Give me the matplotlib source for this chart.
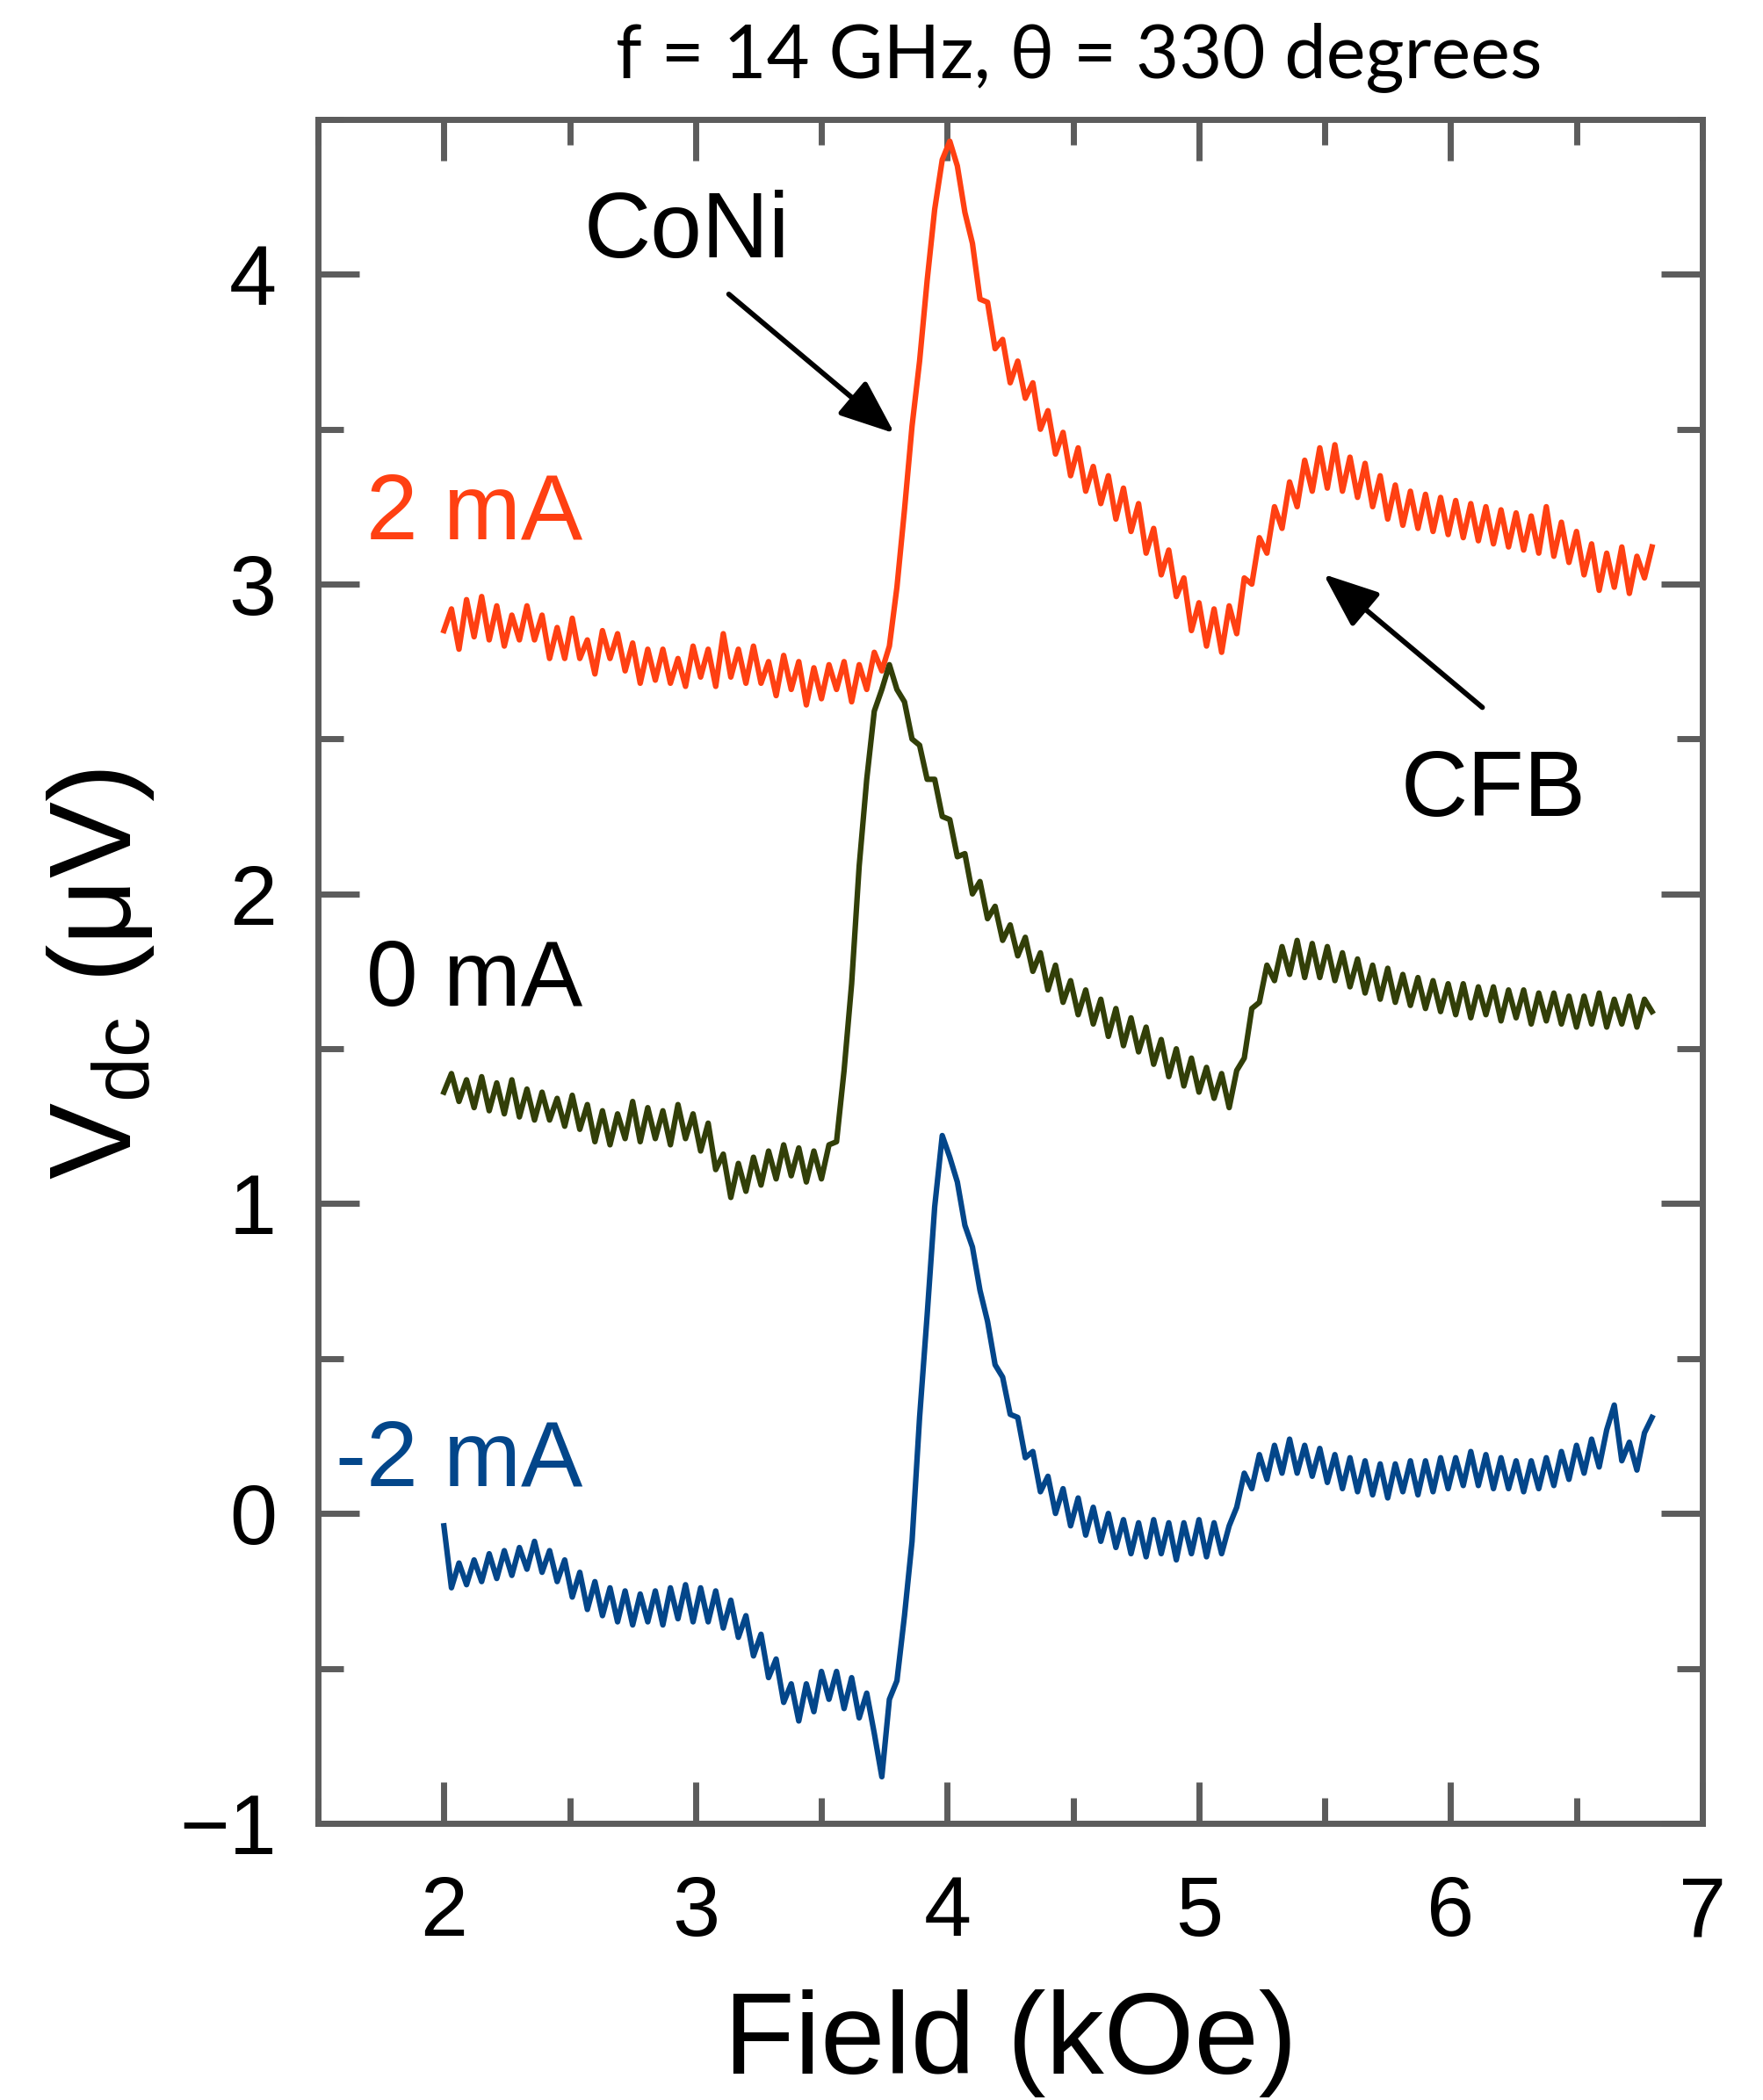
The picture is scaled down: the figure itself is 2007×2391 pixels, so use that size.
import numpy as np
import matplotlib
matplotlib.use("Agg")
import matplotlib.pyplot as plt
from matplotlib.ticker import MultipleLocator, FuncFormatter
from matplotlib.patches import ArrowStyle

plt.rcParams['font.family'] = ['Liberation Sans', 'DejaVu Sans']
plt.rcParams['mathtext.fontset'] = 'custom'
plt.rcParams['mathtext.rm'] = 'Liberation Sans'
plt.rcParams['mathtext.it'] = 'Liberation Sans:italic'

# Field sweep (kOe)
field = np.linspace(2.0, 6.8, 161)

# V_dc (uV) at +2 mA
v_plus2 = [
    2.85, 2.92, 2.79, 2.95, 2.83, 2.96, 2.82, 2.93, 2.80, 2.90,
    2.82, 2.93, 2.82, 2.90, 2.76, 2.86, 2.76, 2.89, 2.76, 2.82,
    2.71, 2.85, 2.76, 2.84, 2.72, 2.81, 2.68, 2.79, 2.69, 2.79,
    2.68, 2.76, 2.67, 2.80, 2.70, 2.79, 2.67, 2.84, 2.70, 2.79,
    2.68, 2.80, 2.68, 2.75, 2.64, 2.77, 2.66, 2.75, 2.61, 2.73,
    2.63, 2.74, 2.66, 2.75, 2.62, 2.74, 2.66, 2.78, 2.72, 2.80,
    2.99, 3.24, 3.51, 3.72, 3.98, 4.21, 4.37, 4.43, 4.35, 4.20,
    4.10, 3.92, 3.91, 3.76, 3.79, 3.65, 3.72, 3.60, 3.65, 3.50,
    3.56, 3.42, 3.49, 3.35, 3.44, 3.30, 3.38, 3.26, 3.35, 3.21,
    3.31, 3.17, 3.26, 3.10, 3.18, 3.03, 3.11, 2.96, 3.02, 2.85,
    2.94, 2.80, 2.92, 2.78, 2.93, 2.84, 3.02, 3.00, 3.15, 3.10,
    3.25, 3.18, 3.33, 3.25, 3.40, 3.30, 3.44, 3.31, 3.45, 3.30,
    3.41, 3.28, 3.39, 3.25, 3.35, 3.21, 3.32, 3.19, 3.30, 3.18,
    3.29, 3.17, 3.28, 3.16, 3.27, 3.15, 3.26, 3.14, 3.25, 3.13,
    3.24, 3.12, 3.23, 3.11, 3.22, 3.10, 3.25, 3.09, 3.20, 3.07,
    3.17, 3.03, 3.13, 2.98, 3.10, 2.99, 3.12, 2.97, 3.09, 3.02, 3.12,
]

# V_dc (uV) at 0 mA
v_zero = [
    1.36, 1.42, 1.33, 1.40, 1.31, 1.41, 1.30, 1.39, 1.29, 1.40,
    1.28, 1.37, 1.27, 1.36, 1.27, 1.34, 1.25, 1.35, 1.24, 1.32,
    1.20, 1.30, 1.19, 1.29, 1.21, 1.33, 1.20, 1.31, 1.21, 1.30,
    1.19, 1.32, 1.21, 1.29, 1.17, 1.26, 1.11, 1.16, 1.02, 1.13,
    1.04, 1.15, 1.06, 1.17, 1.08, 1.19, 1.09, 1.18, 1.07, 1.17,
    1.08, 1.19, 1.20, 1.43, 1.71, 2.09, 2.37, 2.59, 2.66, 2.74,
    2.66, 2.62, 2.50, 2.48, 2.37, 2.37, 2.25, 2.24, 2.12, 2.13,
    2.00, 2.04, 1.92, 1.96, 1.85, 1.90, 1.80, 1.86, 1.75, 1.81,
    1.69, 1.77, 1.65, 1.72, 1.61, 1.69, 1.58, 1.66, 1.54, 1.63,
    1.51, 1.60, 1.49, 1.57, 1.45, 1.53, 1.41, 1.50, 1.38, 1.47,
    1.36, 1.44, 1.34, 1.42, 1.31, 1.43, 1.47, 1.63, 1.65, 1.77,
    1.72, 1.83, 1.74, 1.85, 1.73, 1.84, 1.73, 1.83, 1.72, 1.81,
    1.70, 1.79, 1.68, 1.77, 1.66, 1.76, 1.65, 1.74, 1.64, 1.73,
    1.63, 1.72, 1.62, 1.71, 1.61, 1.71, 1.60, 1.70, 1.61, 1.70,
    1.59, 1.69, 1.60, 1.69, 1.58, 1.68, 1.59, 1.68, 1.58, 1.67,
    1.57, 1.67, 1.58, 1.68, 1.57, 1.66, 1.58, 1.67, 1.57, 1.66, 1.62,
]

# V_dc (uV) at -2 mA
v_minus2 = [
    -0.04, -0.24, -0.16, -0.23, -0.15, -0.22, -0.13, -0.21, -0.12, -0.20,
    -0.11, -0.18, -0.09, -0.19, -0.12, -0.22, -0.15, -0.27, -0.19, -0.31,
    -0.22, -0.33, -0.24, -0.35, -0.25, -0.36, -0.26, -0.35, -0.25, -0.36,
    -0.24, -0.34, -0.23, -0.35, -0.24, -0.35, -0.25, -0.37, -0.28, -0.40,
    -0.33, -0.46, -0.39, -0.53, -0.47, -0.61, -0.55, -0.67, -0.55, -0.64,
    -0.51, -0.60, -0.51, -0.63, -0.53, -0.66, -0.58, -0.71, -0.85, -0.60,
    -0.54, -0.33, -0.09, 0.31, 0.64, 0.99, 1.22, 1.15, 1.07, 0.93,
    0.86, 0.72, 0.62, 0.48, 0.44, 0.32, 0.31, 0.18, 0.20, 0.07,
    0.12, 0.00, 0.08, -0.04, 0.05, -0.07, 0.02, -0.09, 0.00, -0.11,
    -0.02, -0.13, -0.03, -0.14, -0.02, -0.13, -0.03, -0.15, -0.03, -0.13,
    -0.02, -0.14, -0.03, -0.13, -0.04, 0.02, 0.13, 0.08, 0.19, 0.11,
    0.22, 0.13, 0.24, 0.13, 0.22, 0.12, 0.21, 0.10, 0.19, 0.08,
    0.18, 0.07, 0.17, 0.06, 0.16, 0.05, 0.16, 0.07, 0.17, 0.06,
    0.17, 0.07, 0.18, 0.08, 0.18, 0.09, 0.20, 0.09, 0.19, 0.08,
    0.18, 0.08, 0.17, 0.07, 0.17, 0.08, 0.18, 0.09, 0.20, 0.11,
    0.22, 0.13, 0.24, 0.15, 0.27, 0.35, 0.17, 0.23, 0.14, 0.26, 0.31,
]

labels = ["2 mA", "0 mA", "-2 mA"]
line_colors = ["#ff4012", "#323f08", "#03468a"]
label_colors = ["#ff4012", "black", "#03468a"]
label_pos = [(2.55, 3.146), (2.55, 1.639), (2.55, 0.089)]

fig = plt.figure(figsize=(20.07, 23.91), dpi=100)
ax = fig.add_axes([0.1804, 0.1318, 0.7852, 0.8113])

for y, c in zip([v_plus2, v_zero, v_minus2], line_colors):
    ax.plot(field, y, color=c, lw=4.5)

for text, c, (lx, ly) in zip(labels, label_colors, label_pos):
    ax.text(lx, ly, text, color=c, fontsize=76, ha='right', va='baseline')

# Peak annotations
arrow = ArrowStyle('-|>', head_length=0.55, head_width=0.22)
ax.annotate('', xy=(3.79, 3.487), xytext=(3.132, 3.936),
            arrowprops=dict(arrowstyle=arrow, mutation_scale=70, lw=4.2,
                            color='black', shrinkA=0, shrinkB=0))
ax.text(2.964, 4.055, 'CoNi', fontsize=76, ha='center', va='baseline')
ax.annotate('', xy=(5.495, 3.032), xytext=(6.126, 2.602),
            arrowprops=dict(arrowstyle=arrow, mutation_scale=70, lw=4.2,
                            color='black', shrinkA=0, shrinkB=0))
ax.text(6.17, 2.252, 'CFB', fontsize=76, ha='center', va='baseline')

ax.set_xlim(1.5, 7.0)
ax.set_ylim(-1.0, 4.5)
ax.xaxis.set_major_locator(MultipleLocator(1))
ax.xaxis.set_minor_locator(MultipleLocator(0.5))
ax.yaxis.set_major_locator(MultipleLocator(1))
ax.yaxis.set_minor_locator(MultipleLocator(0.5))

axis_gray = '#5c5c5c'
for sp in ax.spines.values():
    sp.set_color(axis_gray)
    sp.set_linewidth(5)
ax.tick_params(which='both', direction='in', top=True, right=True,
               color=axis_gray, width=5, labelsize=70)
ax.tick_params(which='major', length=34)
ax.tick_params(which='minor', length=21)
ax.tick_params(axis='x', pad=42)
ax.tick_params(axis='y', pad=34)

int_fmt = FuncFormatter(lambda v, p: f"{v:.0f}".replace('-', '\u2212'))
ax.xaxis.set_major_formatter(int_fmt)
ax.yaxis.set_major_formatter(int_fmt)

fig.text(0.573, 0.0125, 'Field (kOe)', fontsize=95, ha='center', va='baseline')
fig.text(0.057, 0.536, r'$\mathrm{V}_{\mathrm{dc}}$ (μV)', fontsize=94,
         rotation=90, ha='center', va='center')
fig.text(0.612, 0.9632, 'f = 14 GHz, θ = 330 degrees', fontsize=61,
         family=['Lato', 'Open Sans', 'DejaVu Sans'], ha='center', va='baseline')

fig.savefig('out.png', dpi=100, facecolor='white')
